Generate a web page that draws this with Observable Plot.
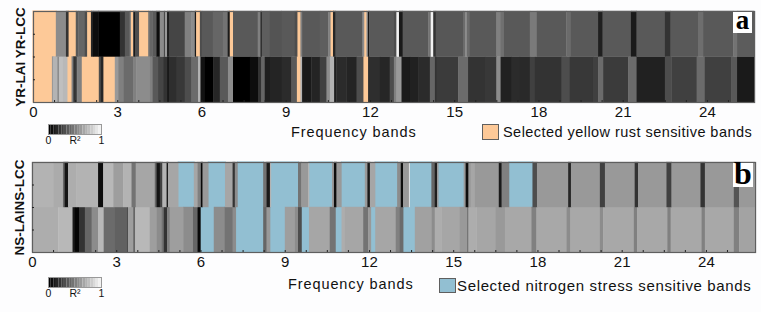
<!DOCTYPE html>
<html>
<head>
<meta charset="utf-8">
<script src="https://cdn.jsdelivr.net/npm/d3@7"></script>
<script src="https://cdn.jsdelivr.net/npm/@observablehq/plot@0.6"></script>
<style>
html,body{margin:0;padding:0;background:#fdfdfe;}
#chart{position:relative;width:761px;height:312px;overflow:hidden;font-family:"Liberation Sans",Arial,sans-serif;color:#111;}
.lab{position:absolute;white-space:nowrap;line-height:1;}
.swatch{position:absolute;box-sizing:border-box;}
.tag{position:absolute;background:#fff;color:#000;font-family:"Liberation Serif",serif;font-weight:bold;text-align:center;}
</style>
</head>
<body>
<div id="chart"></div>
<script>
// Each list: [upper band edge, R²]; null marks a selected sensitive band.
const yrLcc = [[.82,null],[1.18,.55],[1.26,.2],[1.53,null],[1.62,.35],[1.85,.4],[1.92,.3],[2.07,null],[2.14,.15],[2.33,.05],[3.10,0],[3.28,.2],[3.45,.35],[3.48,.5],[3.57,null],[3.60,.3],[3.64,.1],[3.77,.3],[4.11,null],[4.17,.45],[4.26,.4],[4.40,.35],[4.52,.05],[4.67,.55],[4.70,.2],[4.78,.6],[4.85,.12],[5.41,.27],[5.65,.5],[5.77,.55],[5.80,.1],[5.95,null],[6.02,.3],[6.41,.35],[6.77,.4],[6.94,.45],[7.0,.1],[7.13,null],[8.01,.35],[8.11,.5],[8.15,.1],[8.44,.37],[8.86,.33],[9.33,.35],[9.41,.3],[9.53,null],[9.59,.5],[10.22,.35],[10.52,.37],[10.59,.5],[10.69,null],[10.78,.15],[11.74,.35],[11.79,.55],[11.88,null],[11.93,.6],[11.98,.1],[12.86,.35],[12.95,.3],[13.04,.95],[13.17,.1],[14.08,.35],[14.17,.45],[14.26,.95],[14.35,.2],[15.32,.34],[15.39,.42],[15.46,.55],[15.54,.42],[16.51,.35],[16.66,.5],[16.78,.44],[17.7,.35],[17.95,.48],[19.0,.35],[19.15,.42],[20.13,.35],[20.29,.12],[21.3,.35],[21.5,.1],[22.51,.35],[22.71,.2],[23.69,.35],[23.87,.43],[24.94,.35],[25.08,.45],[25.68,.36]];
const yrLai = [[.68,null],[.73,.6],[.87,.7],[.94,.55],[1.07,.75],[1.22,.72],[1.38,null],[1.44,.5],[1.53,.2],[1.58,.3],[1.73,.5],[2.35,null],[2.42,.3],[2.50,.15],[2.92,null],[3.04,.6],[3.22,.5],[3.57,.42],[3.69,.5],[4.17,.55],[4.26,.5],[4.46,.35],[4.64,.27],[4.78,.2],[4.85,.1],[5.12,.18],[5.41,.22],[5.65,.3],[5.89,.42],[5.97,.7],[6.13,.07],[6.42,0],[6.66,.15],[6.95,.35],[7.13,.55],[7.73,0],[8.02,.05],[8.14,.2],[8.26,.4],[8.44,.12],[8.86,.14],[9.21,.17],[9.39,.35],[9.53,null],[9.59,.7],[9.92,.1],[10.22,.14],[10.46,.25],[10.58,.55],[10.73,.7],[10.81,.12],[11.17,.17],[11.53,.14],[11.76,.3],[11.94,null],[12.36,.18],[12.71,.15],[12.86,.3],[12.95,.5],[13.13,.6],[13.43,.1],[13.72,.13],[14.14,.17],[14.32,.4],[14.38,.2],[15.15,.23],[15.5,.42],[16.1,.2],[16.51,.22],[16.66,.55],[17.05,.13],[17.34,.17],[17.7,.16],[17.88,.25],[18.83,.2],[19.12,.3],[19.95,.22],[20.13,.25],[20.31,.42],[21.2,.23],[21.5,.42],[22.51,.13],[22.74,.3],[23.64,.25],[23.93,.42],[24.88,.25],[25.08,.35],[25.68,.1]];
const nsLcc = [[.78,.7],[1.11,.67],[1.17,.4],[1.29,.08],[1.59,.68],[2.36,.7],[2.54,.05],[2.90,.72],[3.25,.62],[3.55,.7],[3.70,.45],[4.38,.65],[4.44,.4],[4.56,.08],[4.65,.25],[4.8,.7],[4.85,.1],[5.21,.65],[5.77,null],[5.9,.65],[6.02,.5],[6.08,.03],[6.28,.6],[6.88,null],[7.15,.65],[7.23,.2],[7.32,.55],[8.24,null],[8.36,.45],[8.48,.1],[8.51,.7],[9.48,null],[9.6,.45],[9.84,.6],[9.87,.7],[10.69,null],[10.76,.6],[10.85,.05],[11.02,.6],[11.86,null],[11.95,.6],[12.04,.1],[12.22,.65],[13.01,null],[13.14,.55],[13.22,.05],[13.43,.6],[13.45,.9],[14.23,null],[14.35,.4],[14.43,.12],[14.47,.6],[15.38,null],[15.45,.6],[15.55,.05],[15.63,.6],[15.78,.65],[16.63,.6],[16.73,.1],[16.99,.5],[17.83,null],[17.99,.3],[19.1,.6],[19.2,.15],[20.23,.6],[20.41,.25],[21.47,.6],[21.59,.2],[22.6,.6],[22.78,.25],[23.81,.6],[23.97,.2],[25.0,.6],[25.19,.33],[25.75,.6]];
const nsLai = [[.94,.68],[1.45,.72],[1.53,.1],[1.68,.02],[1.89,.2],[2.13,.4],[2.36,.55],[2.56,.72],[2.96,.42],[3.37,.38],[3.43,.3],[3.61,.62],[3.68,.4],[4.2,.72],[4.44,.62],[4.62,.55],[4.70,.45],[4.82,.2],[4.91,.5],[5.39,.62],[5.74,.55],[5.9,.4],[6.0,.03],[6.48,null],[6.87,.55],[7.15,.45],[7.26,.55],[8.24,null],[8.36,.4],[8.48,.6],[9.01,null],[9.37,.62],[9.48,.55],[9.6,.3],[9.87,null],[10.61,.65],[10.81,.45],[11.03,null],[11.15,.68],[11.8,.65],[11.98,.45],[12.07,.6],[12.23,null],[12.96,.65],[13.1,.5],[13.22,.42],[13.64,null],[14.23,.63],[14.35,.55],[14.59,.68],[15.24,.65],[15.5,.6],[15.55,.45],[15.83,.68],[16.52,.65],[16.85,.6],[17.79,.66],[17.97,.5],[19.04,.66],[19.18,.55],[20.23,.66],[20.35,.55],[21.44,.66],[21.56,.5],[22.63,.66],[22.75,.5],[23.85,.66],[23.97,.5],[25.0,.66],[25.19,.5],[25.75,.64]];

const xTicks = [0,3,6,9,12,15,18,21,24];
const xMinor = [.75,1.5,2.25,3,3.75,4.5,5.25,6,6.75,7.5,8.25,9,9.75,10.5,11.25,12,12.75,13.5,14.25,15,15.75,16.5,17.25,18,18.75,19.5,20.25,21,21.75,22.5,23.25,24,24.75];
const yMinor = [.5,1,1.5];
const rampSteps = [0,.05,.1,.15,.2,.25,.3,.35,.4,.45,.5,.55,.6,.65,.7,.75,.8,.85,.9,.95];

const grayScale = {type:"linear", domain:[0,1], range:["#000000","#ffffff"]};
const fontFam = '"Liberation Sans",Arial,sans-serif';

function cells(list, y1) {
  let start = 0;
  return list.map(([end, r2]) => {
    const c = {x1:start, x2:end, y1, y2:y1+1, r2};
    start = end;
    return c;
  });
}

function panel({lower, upper, xMax, left, top, frameH, accent, yLabel}) {
  const rows = [...cells(lower,0), ...cells(upper,1)];
  const base = {x1:"x1", x2:"x2", y1:"y1", y2:"y2"};
  return Plot.plot({
    width:761, height:frameH+22, marginLeft:left, marginRight:761-left-xMax*28.08,
    marginTop:0, marginBottom:22,
    style:{position:"absolute", left:"0px", top:top+"px", background:"none", fontFamily:fontFam, overflow:"visible"},
    x:{domain:[0,xMax]}, y:{domain:[0,2]}, color:grayScale,
    marks:[
      Plot.rect(rows.filter(d=>d.r2===null), {...base, fill:accent, inset:-0.6}),
      Plot.rect(rows.filter(d=>d.r2!==null), {...base, fill:"r2", inset:-0.2, imageFilter:"blur(0.6px)"}),
      Plot.frame({stroke:"#5f5f5f", strokeWidth:1.2}),
      Plot.axisX({ticks:xMinor, tickSize:-2, tickFormat:()=>"", stroke:"#222"}),
      Plot.axisY({ticks:yMinor, tickSize:-2, tickFormat:()=>"", stroke:"#222", label:null}),
      Plot.axisX({ticks:xTicks, tickSize:0, tickPadding:4, fontSize:15, fontWeight:500, label:null, stroke:"#111", strokeWidth:0.2, fill:"#111"}),
      Plot.text([yLabel], {frameAnchor:"left", textAnchor:"middle", rotate:-90, dx:-13, fontSize:13.5, fontWeight:"bold", fill:"#111", fontFamily:fontFam})
    ]
  });
}

function ramp(top) {
  return Plot.plot({
    width:73, height:30, marginLeft:10, marginRight:10, marginTop:0, marginBottom:20,
    style:{position:"absolute", left:"38px", top:top+"px", background:"none", fontFamily:fontFam},
    x:{domain:[0,1]}, y:{axis:null, domain:[0,1]}, color:grayScale,
    marks:[
      Plot.rect(rampSteps, {x1:d=>d, x2:d=>d+.05, y1:0, y2:1, fill:d=>d}),
      Plot.frame({stroke:"#999"}),
      Plot.axisX({ticks:[0,.5,1], tickSize:0, tickPadding:2, fontSize:10.5, label:null, fill:"#111",
        tickFormat:d=>d===.5?"R²":String(d)})
    ]
  });
}

const host = document.getElementById("chart");
host.append(
  panel({lower:yrLai, upper:yrLcc, xMax:25.68, left:33, top:11, frameH:91, accent:"#fdc998", yLabel:"YR-LAI YR-LCC"}),
  panel({lower:nsLai, upper:nsLcc, xMax:25.75, left:32, top:162, frameH:90, accent:"#92bfd2", yLabel:"NS-LAINS-LCC"}),
  ramp(124), ramp(277)
);

function addLabel(text, x, y, size, spacing) {
  const e = document.createElement("div");
  e.className = "lab"; e.textContent = text;
  e.style.cssText += `left:${x}px;top:${y}px;font-size:${size}px;letter-spacing:${spacing}px;`;
  host.append(e);
}
function addSwatch(x, y, w, h, fill) {
  const e = document.createElement("div");
  e.className = "swatch";
  e.style.cssText += `left:${x}px;top:${y}px;width:${w}px;height:${h}px;background:${fill};border:1px solid #5f5f5f;`;
  host.append(e);
}
function addTag(t, x, y, w, h, size) {
  const e = document.createElement("div");
  e.className = "tag"; e.textContent = t;
  e.style.cssText += `left:${x}px;top:${y}px;width:${w}px;height:${h}px;font-size:${size}px;line-height:${h-4}px;`;
  host.append(e);
}
addLabel("Frequency bands", 291, 125, 14.5, 0.9);
addLabel("Frequency bands", 288, 277, 14.5, 0.9);
addSwatch(482, 124, 17, 16, "#fdc998");
addSwatch(439, 278, 17, 15, "#92bfd2");
addLabel("Selected yellow rust sensitive bands", 503, 125, 14.5, 0.45);
addLabel("Selected nitrogen stress sensitive bands", 457, 278, 15, 0.65);
addTag("a", 733, 12, 19, 21, 27);
addTag("b", 733, 163, 20, 24, 32);
</script>
</body>
</html>
